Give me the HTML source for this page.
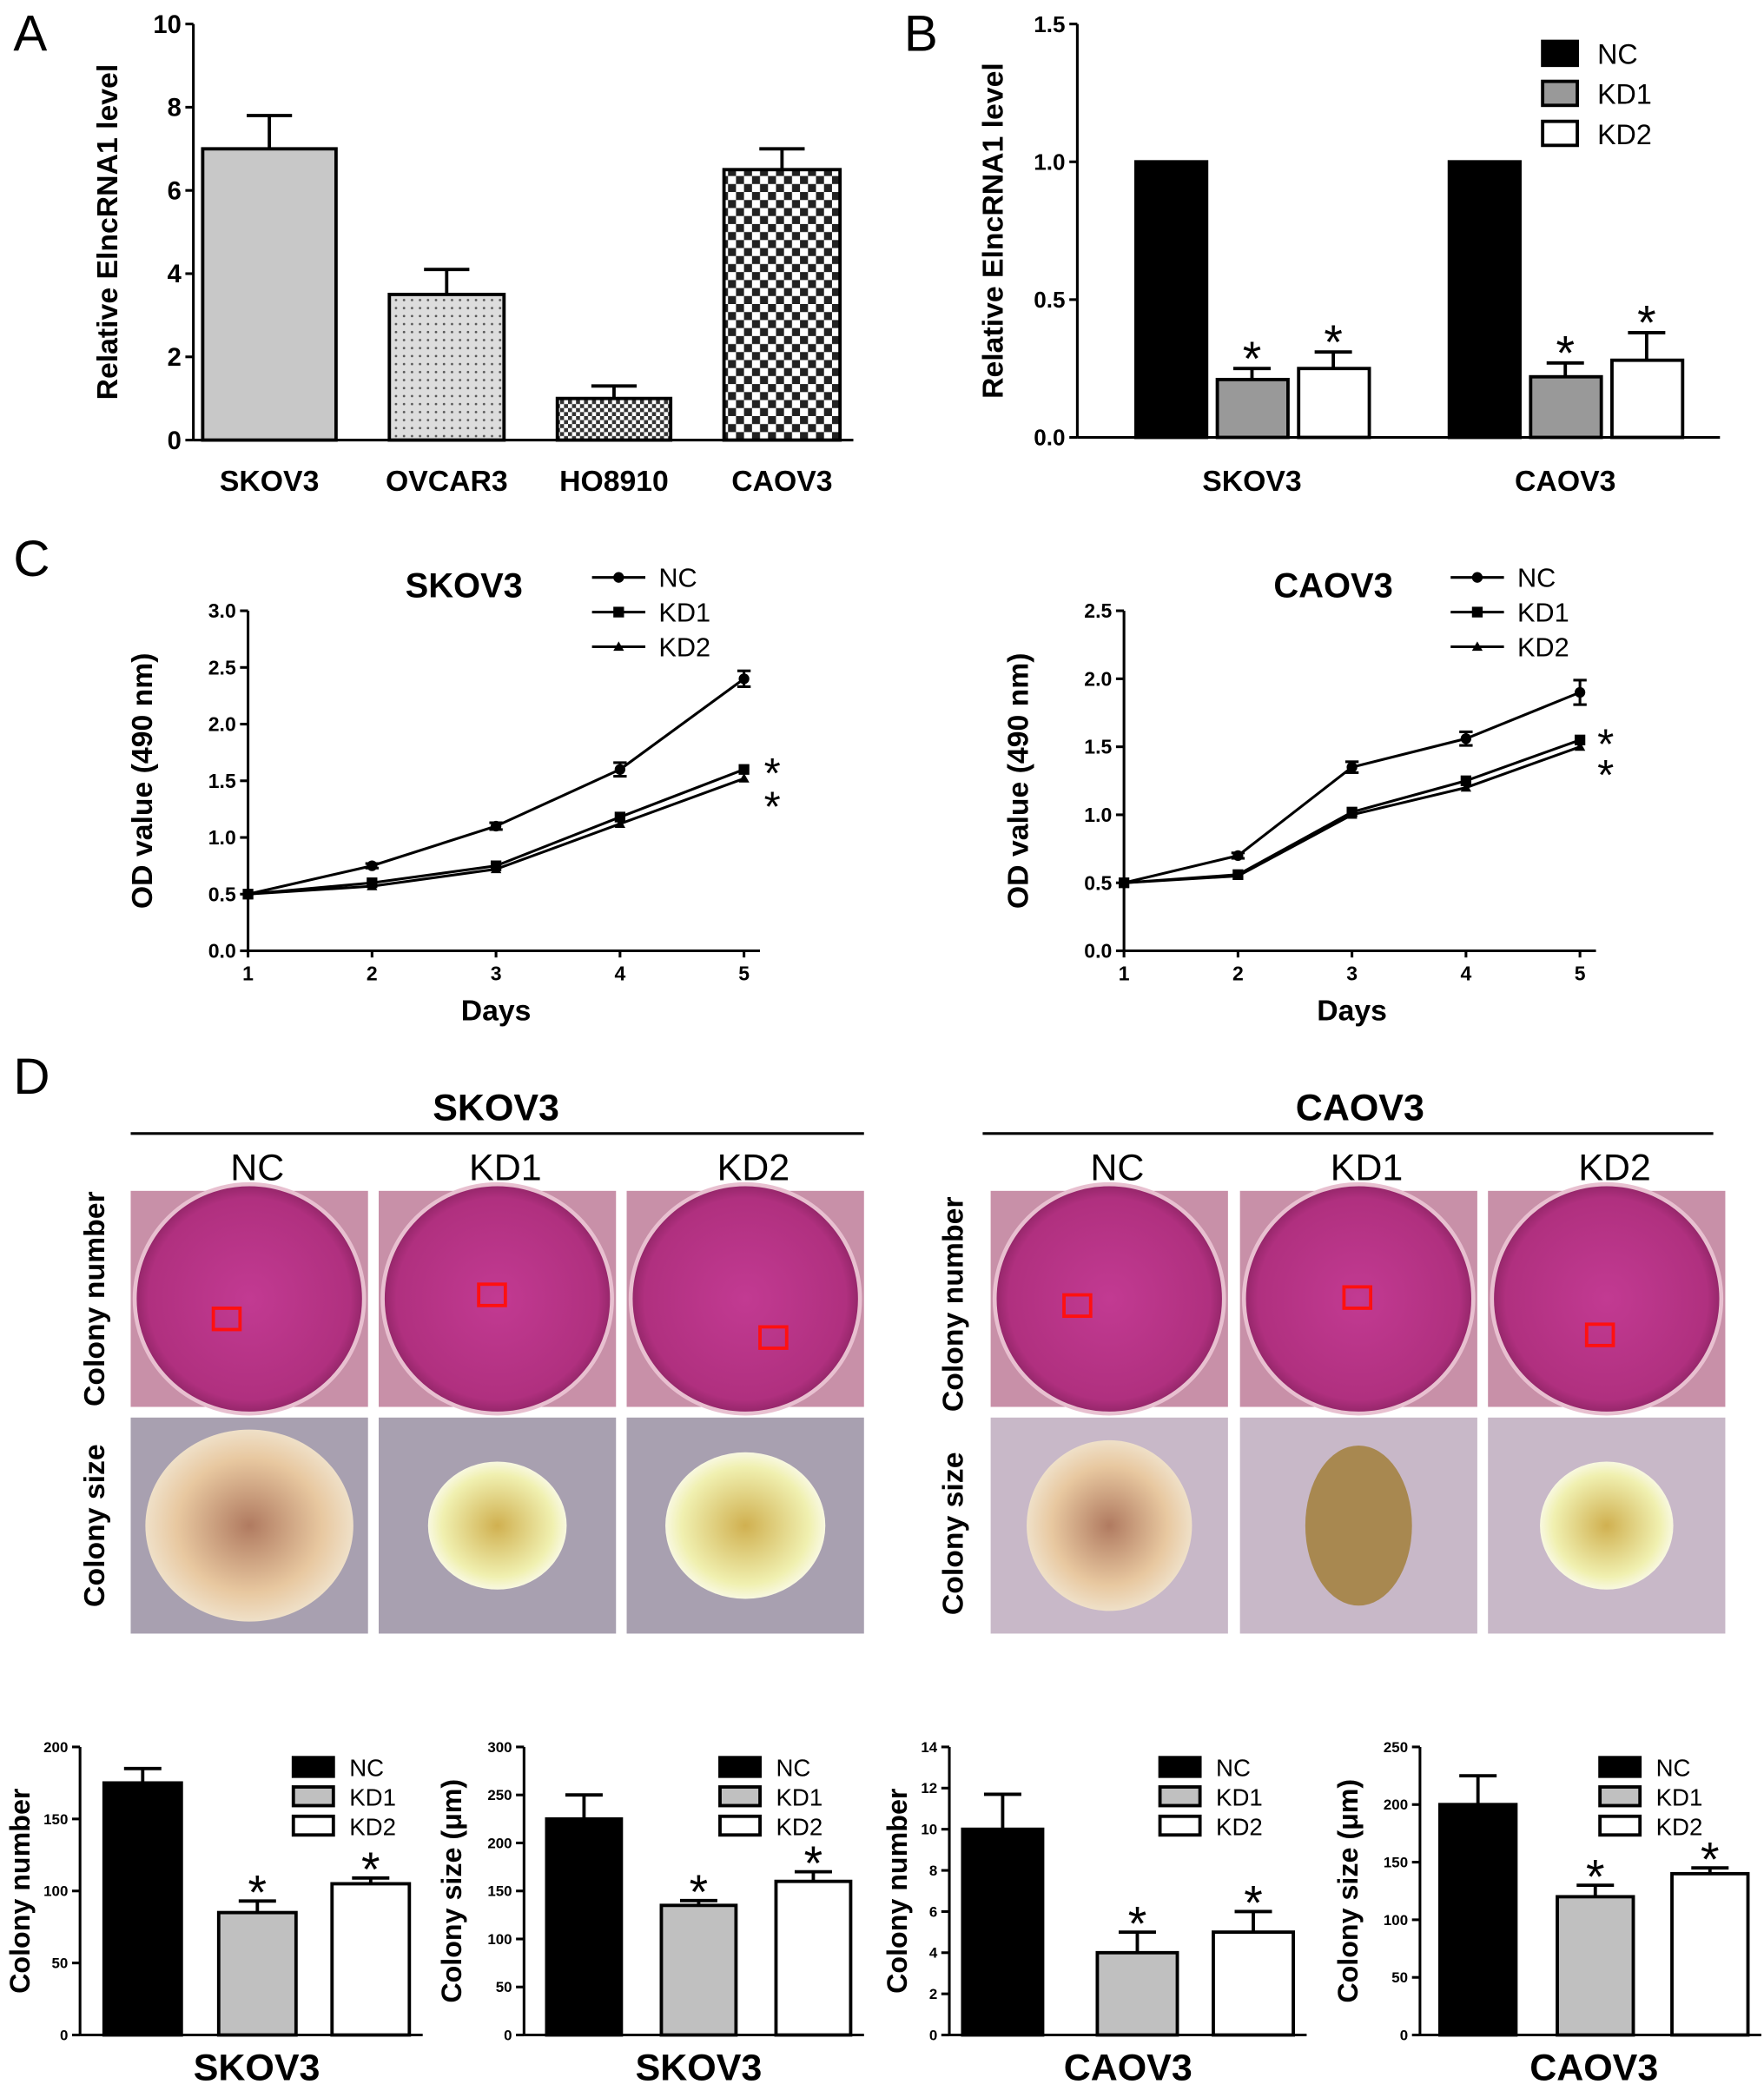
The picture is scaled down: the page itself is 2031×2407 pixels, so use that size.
<!DOCTYPE html>
<html><head><meta charset="utf-8"><style>
html,body{margin:0;padding:0;background:#fff}
svg{display:block;font-family:"Liberation Sans",Arial,sans-serif}
</style></head><body>
<svg id="fig" width="2031" height="2407" viewBox="0 0 1323 1568" xmlns="http://www.w3.org/2000/svg">
<defs>
<pattern id="pDot" width="6" height="6" patternUnits="userSpaceOnUse"><rect width="6" height="6" fill="#ddd"/><circle cx="3" cy="3" r="0.9" fill="#555"/></pattern>
<pattern id="pFine" width="6" height="6" patternUnits="userSpaceOnUse"><rect width="6" height="6" fill="#fff"/><rect width="3" height="3" fill="#333"/><rect x="3" y="3" width="3" height="3" fill="#333"/></pattern>
<pattern id="pChk" width="12" height="12" patternUnits="userSpaceOnUse"><rect width="12" height="12" fill="#fff"/><rect width="6" height="6" fill="#222"/><rect x="6" y="6" width="6" height="6" fill="#222"/></pattern>
<radialGradient id="well" cx="50%" cy="50%" r="55%"><stop offset="0" stop-color="#c23a92"/><stop offset="0.8" stop-color="#b0307f"/><stop offset="1" stop-color="#7a1d55"/></radialGradient>
<radialGradient id="col1" cx="50%" cy="50%" r="50%"><stop offset="0" stop-color="#b07a60"/><stop offset="0.7" stop-color="#e8c8a0"/><stop offset="1" stop-color="#efe0c8"/></radialGradient>
<radialGradient id="col2" cx="50%" cy="50%" r="50%"><stop offset="0" stop-color="#d0b050"/><stop offset="0.8" stop-color="#f0f0b0"/><stop offset="1" stop-color="#f8f8e0"/></radialGradient>
</defs>
<g id="root"></g>
</svg>
<script>
// ---- data ----
const aCats=["SKOV3","OVCAR3","HO8910","CAOV3"];
const aVals=[7.0,3.5,1.0,6.5];
const aErrs=[0.8,0.6,0.3,0.5];
const aTicks=[0,2,4,6,8,10];
const bCats=["SKOV3","CAOV3"];
const bNC=[1.0,1.0];
const bKD1=[0.21,0.22];
const bKD2=[0.25,0.28];
const bErrNC=[0,0];
const bErrKD1=[0.04,0.05];
const bErrKD2=[0.06,0.1];
const bTicks=[0.0,0.5,1.0,1.5];
const days=[1,2,3,4,5];
const cSkNC=[0.5,0.75,1.1,1.6,2.4];
const cSkKD1=[0.5,0.6,0.75,1.18,1.6];
const cSkKD2=[0.5,0.57,0.72,1.12,1.52];
const cSkErr=[0,0.02,0.03,0.06,0.07];
const cSkTicks=[0,0.5,1,1.5,2,2.5,3];
const cCaNC=[0.5,0.7,1.35,1.56,1.9];
const cCaKD1=[0.5,0.56,1.02,1.25,1.55];
const cCaKD2=[0.5,0.55,1.0,1.2,1.5];
const cCaErr=[0,0.02,0.04,0.05,0.09];
const cCaTicks=[0,0.5,1,1.5,2,2.5];
const d1Vals=[175,85,105], d1Errs=[10,8,4], d1Ticks=[0,50,100,150,200];
const d2Vals=[225,135,160], d2Errs=[25,5,10], d2Ticks=[0,50,100,150,200,250,300];
const d3Vals=[10,4,5], d3Errs=[1.7,1,1], d3Ticks=[0,2,4,6,8,10,12,14];
const d4Vals=[200,120,140], d4Errs=[25,10,5], d4Ticks=[0,50,100,150,200,250];

const NS="http://www.w3.org/2000/svg";
const root=document.getElementById('root');
function el(tag,attrs,parent,text){const e=document.createElementNS(NS,tag);for(const k in attrs)e.setAttribute(k,attrs[k]);if(text!==undefined)e.textContent=text;(parent||root).appendChild(e);return e;}
function txt(x,y,s,size,opts,name){const e=el('text',Object.assign({x:x,y:y,'font-size':size,fill:'#000'},opts||{}),root,s);

return e;}
function line(x1,y1,x2,y2,w,name){const e=el('line',{x1,y1,x2,y2,stroke:'#000','stroke-width':w||2});

return e;}
function yAxis(x,y0,y1,ticks,max,fs,fmt,title,tx,tsize){
 line(x,y0,x,y1,2,'y-axis');
 const sc=v=>y0-(v/max)*(y0-y1);
 ticks.forEach(t=>{line(x-6,sc(t),x,sc(t),2,'y-tick');
  txt(x-9,sc(t)+fs*0.35,fmt(t),fs,{'text-anchor':'end','font-weight':'bold'},'y-tick-label');});
 txt(0,0,title,tsize,{'text-anchor':'middle','font-weight':'bold',transform:`translate(${tx},${(y0+y1)/2}) rotate(-90)`},'y-axis-title');
 return sc;}
function errbar(cx,ytop,yerr,hw,name){line(cx,ytop,cx,yerr,2.5,name);line(cx-hw,yerr,cx+hw,yerr,2.5,name);}
function bar(x,w,y0,ytop,fill,name){const r=el('rect',{x:x,y:ytop,width:w,height:y0-ytop,fill:fill,stroke:'#000','stroke-width':2.5});

return r;}

// ---- Panel A ----
txt(10,38,"A",38,{},'panel-label-a');
{const y0=330,y1=18,sc=yAxis(145,y0,y1,aTicks,10,19,t=>t,"Relative ElncRNA1 level",88,22);
 line(145,y0,640,y0,2,'x-axis');
 const xs=[152,292,418,543],ws=[100,86,85,87],fills=['#c8c8c8','url(#pDot)','url(#pFine)','url(#pChk)'];
 aVals.forEach((v,i)=>{errbar(xs[i]+ws[i]/2,sc(v),sc(v+aErrs[i]),17,'error-bar');bar(xs[i],ws[i],y0,sc(v),fills[i],'bar-'+aCats[i].toLowerCase());
  txt(xs[i]+ws[i]/2,368,aCats[i],22,{'text-anchor':'middle','font-weight':'bold'},'x-tick-label');});}

// ---- Panel B ----
txt(678,38,"B",38,{},'panel-label-b');
{const y0=328,y1=18,sc=yAxis(808,y0,y1,bTicks,1.5,17,t=>t.toFixed(1),"Relative ElncRNA1 level",752,22);
 line(808,y0,1290,y0,2,'x-axis');
 const groups=[852,1087];const fills=['#000','#999','#fff'];const series=[bNC,bKD1,bKD2];const errs=[bErrNC,bErrKD1,bErrKD2];const nm=['nc','kd1','kd2'];
 groups.forEach((gx,g)=>{series.forEach((s,j)=>{const x=gx+j*61,v=s[g];
  if(errs[j][g]>0)errbar(x+26,sc(v),sc(v+errs[j][g]),14,'error-bar');
  bar(x,53,y0,sc(v),fills[j],`bar-${bCats[g].toLowerCase()}-${nm[j]}`);
  if(j>0)txt(x+26,sc(v+errs[j][g])+5,"*",36,{'text-anchor':'middle'},'significance-star');});
  txt(gx+87,368,bCats[g],22,{'text-anchor':'middle','font-weight':'bold'},'x-tick-label');});
 ["NC","KD1","KD2"].forEach((l,j)=>{bar(1157,26,40+j*30+9,40+j*30-9,fills[j],'legend-swatch-'+nm[j]);txt(1198,48+j*30,l,21,{},'legend-entry');});}

// ---- Panel C ----
txt(10,432,"C",38,{},'panel-label-c');
function lineChart(ax,y0,y1,ticks,max,xe,title,titlex,NC,K1,K2,err,legx,starx){
 const sc=yAxis(ax,y0,y1,ticks,max,15,t=>t.toFixed(1),"OD value (490 nm)",ax-72,22);
 line(ax,y0,xe+12,y0,2,'x-axis');
 const xs=d=>ax+(d-1)*(xe-ax)/4;
 days.forEach(d=>{line(xs(d),y0,xs(d),y0+5,2,'x-tick');txt(xs(d),y0+22,d,15,{'text-anchor':'middle','font-weight':'bold'},'x-tick-label');});
 txt((ax+xe)/2,y0+52,"Days",22,{'text-anchor':'middle','font-weight':'bold'},'x-axis-title');
 txt(titlex,448,title,26,{'text-anchor':'middle','font-weight':'bold'},'chart-title');
 [[NC,'circle','nc'],[K1,'square','kd1'],[K2,'tri','kd2']].forEach(([s,m,n])=>{
  const p=el('polyline',{points:s.map((v,i)=>xs(days[i])+','+sc(v)).join(' '),fill:'none',stroke:'#000','stroke-width':2});
  
  
  s.forEach((v,i)=>{const x=xs(days[i]),y=sc(v);
   if(n==='nc'&&err[i]>0){line(x,sc(v-err[i]),x,sc(v+err[i]),2,'error-bar');line(x-5,sc(v+err[i]),x+5,sc(v+err[i]),2,'error-bar');line(x-5,sc(v-err[i]),x+5,sc(v-err[i]),2,'error-bar');}
   let mk;if(m==='circle')mk=el('circle',{cx:x,cy:y,r:4,fill:'#000'});else if(m==='square')mk=el('rect',{x:x-4,y:y-4,width:8,height:8,fill:'#000'});else mk=el('polygon',{points:`${x},${y-4} ${x-4},${y+3} ${x+4},${y+3}`,fill:'#000'});
   
   });});
 ["NC","KD1","KD2"].forEach((l,j)=>{const y=433+j*26;line(legx,y,legx+40,y,2,'legend-line');
  const mk=j===0?el('circle',{cx:legx+20,cy:y,r:4}):j===1?el('rect',{x:legx+16,y:y-4,width:8,height:8}):el('polygon',{points:`${legx+20},${y-4} ${legx+16},${y+3} ${legx+24},${y+3}`});
  
  
  txt(legx+50,y+7,l,20,{},'legend-entry');});
 txt(starx,sc(K1[4])+14,"*",32,{},'significance-star');txt(starx,sc(K2[4])+32,"*",32,{},'significance-star');
}
lineChart(186,713,458,cSkTicks,3,558,"SKOV3",348,cSkNC,cSkKD1,cSkKD2,cSkErr,444,573);
lineChart(843,713,458,cCaTicks,2.5,1185,"CAOV3",1000,cCaNC,cCaKD1,cCaKD2,cCaErr,1088,1198);

// ---- Panel D ----
txt(10,820,"D",38,{},'panel-label-d');
txt(372,840,"SKOV3",28,{'text-anchor':'middle','font-weight':'bold'},'group-title-skov3');
txt(1020,840,"CAOV3",28,{'text-anchor':'middle','font-weight':'bold'},'group-title-caov3');
line(98,850,648,850,2,'group-rule');line(737,850,1285,850,2,'group-rule');
const colL=[98,284,470],colR=[743,930,1116],labs=["NC","KD1","KD2"];
[colL,colR].forEach((cols,g)=>cols.forEach((x,i)=>{
 txt(x+95,885,labs[i],28,{'text-anchor':'middle'},'column-label');
 const r=el('rect',{x:x,y:893,width:178,height:162,fill:'#c890a8'});
 const c=el('circle',{cx:x+89,cy:974,r:86,fill:'url(#well)',stroke:'#e8c0d0','stroke-width':3});
 const bx=[[62,88],[75,70],[100,102],[55,78],[78,72],[74,100]][g*3+i];
 const b=el('rect',{x:x+bx[0],y:893+bx[1],width:20,height:16,fill:'none',stroke:'#ff1010','stroke-width':2.5});
 const p=el('rect',{x:x,y:1063,width:178,height:162,fill:g?'#c8b8c8':'#a8a0b0'});
 const sz=[[78,72],[52,48],[60,55],[62,64],[40,60],[50,48]][g*3+i];
 const o=el('ellipse',{cx:x+89,cy:1144,rx:sz[0],ry:sz[1],fill:(g===1&&i===1)?'#a88850':(i===0?'url(#col1)':'url(#col2)')});
}));
txt(0,0,"Colony number",22,{'text-anchor':'middle','font-weight':'bold',transform:'translate(78,974) rotate(-90)'},'row-label');
txt(0,0,"Colony size",22,{'text-anchor':'middle','font-weight':'bold',transform:'translate(78,1144) rotate(-90)'},'row-label');
txt(0,0,"Colony number",22,{'text-anchor':'middle','font-weight':'bold',transform:'translate(722,978) rotate(-90)'},'row-label');
txt(0,0,"Colony size",22,{'text-anchor':'middle','font-weight':'bold',transform:'translate(722,1150) rotate(-90)'},'row-label');

function smallBar(ax,ticks,max,vals,errs,xs,w,title,titleX,cat,legx){
 const y0=1526,y1=1310;const sc=yAxis(ax,y0,y1,ticks,max,11,t=>t,title,titleX,21);
 line(ax,y0,xs[2]+w+10,y0,2,'x-axis');
 const fills=['#000','#c0c0c0','#fff'],nm=['nc','kd1','kd2'];
 vals.forEach((v,i)=>{errbar(xs[i]+w/2,sc(v),sc(v+errs[i]),14,'error-bar');bar(xs[i],w,y0,sc(v),fills[i],'bar-'+nm[i]);
  if(i>0)txt(xs[i]+w/2,sc(v+errs[i])+6,"*",36,{'text-anchor':'middle'},'significance-star');});
 txt((xs[0]+xs[2]+w)/2,1560,cat,28,{'text-anchor':'middle','font-weight':'bold'},'x-category-label');
 ["NC","KD1","KD2"].forEach((l,j)=>{const y=1325+j*22;bar(legx,30,y+7,y-7,fills[j],'legend-swatch');txt(legx+42,y+7,l,18,{},'legend-entry');});
}
smallBar(60,d1Ticks,200,d1Vals,d1Errs,[78,164,249],58,"Colony number",22,"SKOV3",220);
smallBar(393,d2Ticks,300,d2Vals,d2Errs,[410,496,582],56,"Colony size (μm)",346,"SKOV3",540);
smallBar(712,d3Ticks,14,d3Vals,d3Errs,[722,823,910],60,"Colony number",680,"CAOV3",870);
smallBar(1065,d4Ticks,250,d4Vals,d4Errs,[1080,1168,1254],57,"Colony size (μm)",1018,"CAOV3",1200);
</script>
</body></html>
